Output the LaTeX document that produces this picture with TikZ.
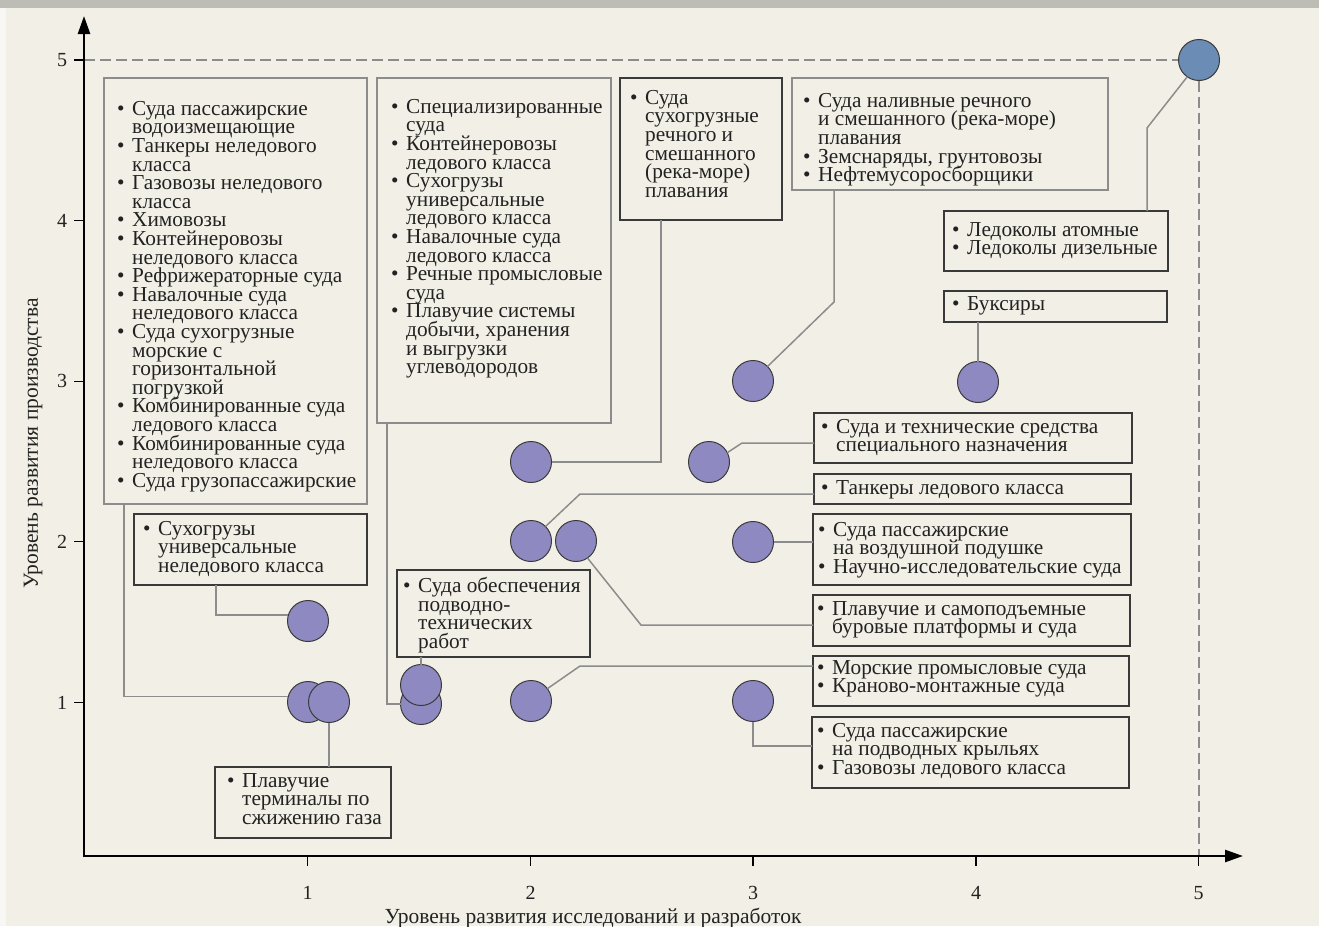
\documentclass[tikz,border=0pt]{standalone}
\usepackage{fontspec}
\setmainfont{Liberation Serif}
\usetikzlibrary{calc,arrows.meta}
\definecolor{bgc}{HTML}{F2F0E6}
\definecolor{bandc}{HTML}{BEBDB5}
\definecolor{stripc}{HTML}{F8F7F3}
\definecolor{txtc}{HTML}{222222}
\definecolor{gline}{HTML}{8C8C8C}
\definecolor{dline}{HTML}{3A3A3A}
\definecolor{purp}{HTML}{8F89C1}
\definecolor{bluec}{HTML}{6B8CB5}
\newcommand\mybul{\makebox[15pt][l]{\textbullet}}
\newcommand\mycont{\hspace*{15pt}}
\newcommand\mystrut{\rule{0pt}{14pt}}
\lineskiplimit=-20pt
\begin{document}
\begin{tikzpicture}[x=1pt,y=-1pt,
  boxg/.style={draw=gline, line width=1.5pt, inner sep=0, outer sep=0, anchor=north west},
  boxd/.style={draw=dline, line width=1.5pt, inner sep=0, outer sep=0, anchor=north west},
  txt/.style={inner sep=0, anchor=north west, align=left, text=txtc,
     font=\fontsize{21.3}{18.6}\selectfont},
  dot/.style={circle, draw=dline, line width=1pt, fill=purp, minimum size=41pt, inner sep=0, outer sep=0},
  bdot/.style={dot, fill=bluec},
  conn/.style={draw=gline, line width=1.5pt},
  axisl/.style={draw=black, line width=2.5pt, -{Triangle[length=18pt,width=12pt]}},
  tickl/.style={draw=black, line width=1.2pt},
  dashl/.style={draw=gline, line width=2.2pt, dash pattern=on 11pt off 5pt},
  ticklab/.style={inner sep=0, text=txtc, font=\fontsize{20}{20}\selectfont},
  axlab/.style={inner sep=0, text=txtc, font=\fontsize{21.5}{21.5}\selectfont}
]
\useasboundingbox (0,0) rectangle (1319,926);
\fill[bgc] (0,0) rectangle (1319,926);
\fill[stripc] (0,8) rectangle (6,926);
\fill[bandc] (0,0) rectangle (1319,8);

% axes
\coordinate (O) at (84,856);
\coordinate (Ytip) at (84,16);
\coordinate (Xtip) at (1243,856);

% boxes
\node[boxg, minimum width=263pt, minimum height=426pt] (A) at (104,78) {};
\node[boxg, minimum width=234pt, minimum height=345pt] (Bx) at (377,78) {};
\node[boxd, minimum width=162pt, minimum height=142pt] (Cx) at (620,78) {};
\node[boxg, minimum width=316pt, minimum height=112pt] (D) at (792,78) {};
\node[boxd, minimum width=224pt, minimum height=60pt] (E) at (944,211) {};
\node[boxd, minimum width=223pt, minimum height=31pt] (F) at (944,291) {};
\node[boxd, minimum width=318pt, minimum height=50pt] (G) at (814,413) {};
\node[boxd, minimum width=317pt, minimum height=30pt] (H) at (814,474) {};
\node[boxd, minimum width=318pt, minimum height=71pt] (I) at (813,514) {};
\node[boxd, minimum width=317pt, minimum height=51pt] (J) at (813,595) {};
\node[boxd, minimum width=316pt, minimum height=50pt] (K) at (813,656) {};
\node[boxd, minimum width=317pt, minimum height=71pt] (L) at (812,717) {};
\node[boxd, minimum width=233pt, minimum height=71pt] (M) at (134,514) {};
\node[boxd, minimum width=193pt, minimum height=87pt] (N) at (397,570) {};
\node[boxd, minimum width=176pt, minimum height=71pt] (Ob) at (215,767) {};

% box texts
\node[txt] (At) at (117,101) {\mystrut\mybul Суда пассажирские\\
\mycont водоизмещающие\\
\mybul Танкеры неледового\\
\mycont класса\\
\mybul Газовозы неледового\\
\mycont класса\\
\mybul Химовозы\\
\mybul Контейнеровозы\\
\mycont неледового класса\\
\mybul Рефрижераторные суда\\
\mybul Навалочные суда\\
\mycont неледового класса\\
\mybul Суда сухогрузные\\
\mycont морские с\\
\mycont горизонтальной\\
\mycont погрузкой\\
\mybul Комбинированные суда\\
\mycont ледового класса\\
\mybul Комбинированные суда\\
\mycont неледового класса\\
\mybul Суда грузопассажирские};
\node[txt] (Bt) at (391,99) {\mystrut\mybul Специализированные\\
\mycont суда\\
\mybul Контейнеровозы\\
\mycont ледового класса\\
\mybul Сухогрузы\\
\mycont универсальные\\
\mycont ледового класса\\
\mybul Навалочные суда\\
\mycont ледового класса\\
\mybul Речные промысловые\\
\mycont суда\\
\mybul Плавучие системы\\
\mycont добычи, хранения\\
\mycont и выгрузки\\
\mycont углеводородов};
\node[txt] (Ct) at (630,90) {\mystrut\mybul Суда\\
\mycont сухогрузные\\
\mycont речного и\\
\mycont смешанного\\
\mycont (река-море)\\
\mycont плавания};
\node[txt] (Dt) at (803,93) {\mystrut\mybul Суда наливные речного\\
\mycont и смешанного (река-море)\\
\mycont плавания\\
\mybul Земснаряды, грунтовозы\\
\mybul Нефтемусоросборщики};
\node[txt] (Et) at (952,222) {\mystrut\mybul Ледоколы атомные\\
\mybul Ледоколы дизельные};
\node[txt] (Ft) at (952,296) {\mystrut\mybul Буксиры};
\node[txt] (Gt) at (821,419) {\mystrut\mybul Суда и технические средства\\
\mycont специального назначения};
\node[txt] (Ht) at (821,480) {\mystrut\mybul Танкеры ледового класса};
\node[txt] (It) at (818,522) {\mystrut\mybul Суда пассажирские\\
\mycont на воздушной подушке\\
\mybul Научно-исследовательские суда};
\node[txt] (Jt) at (817,601) {\mystrut\mybul Плавучие и самоподъемные\\
\mycont буровые платформы и суда};
\node[txt] (Kt) at (817,660) {\mystrut\mybul Морские промысловые суда\\
\mybul Краново-монтажные суда};
\node[txt] (Lt) at (817,723) {\mystrut\mybul Суда пассажирские\\
\mycont на подводных крыльях\\
\mybul Газовозы ледового класса};
\node[txt] (Mt) at (143,521) {\mystrut\mybul Сухогрузы\\
\mycont универсальные\\
\mycont неледового класса};
\node[txt] (Nt) at (403,577) {\mystrut\mybul Суда обеспечения\\
\mycont подводно-\\
\mycont технических\\
\mycont работ};
\node[txt] (Ot) at (227,773) {\mystrut\mybul Плавучие\\
\mycont терминалы по\\
\mycont сжижению газа};

% circle positions
\coordinate (q55) at (1199,60);
\coordinate (q11) at (308,702);
\coordinate (q111) at (329,702);
\coordinate (q115) at (308,621);
\coordinate (q151) at (421,704);
\coordinate (q1511) at (421,685);
\coordinate (q225) at (531,462);
\coordinate (q22) at (531,541);
\coordinate (q222) at (576,541);
\coordinate (q21) at (531,701);
\coordinate (q2825) at (709,462);
\coordinate (q33) at (753,381);
\coordinate (q32) at (753,542);
\coordinate (q31) at (753,701);
\coordinate (q43) at (978,382);

% dashed guides
\draw[dashl] (O |- q55) -- ($(q55)+(-20.5,0)$);
\draw[dashl] ($(q55)+(0,20.5)$) -- (q55 |- O);

% circles
\node[bdot] (p55) at (q55) {};
\node[dot] (p11) at (q11) {};
\node[dot] (p111) at (q111) {};
\node[dot] (p115) at (q115) {};
\node[dot] (p151) at (q151) {};
\node[dot] (p1511) at (q1511) {};
\node[dot] (p225) at (q225) {};
\node[dot] (p22) at (q22) {};
\node[dot] (p222) at (q222) {};
\node[dot] (p21) at (q21) {};
\node[dot] (p2825) at (q2825) {};
\node[dot] (p33) at (q33) {};
\node[dot] (p32) at (q32) {};
\node[dot] (p31) at (q31) {};
\node[dot] (p43) at (q43) {};

% connectors
\coordinate (d1) at (834,302);
\coordinate (e1) at (1147,128);
\coordinate (g1) at (742,443);
\coordinate (h1) at (580,494);
\coordinate (j1) at (641,625);
\coordinate (k1) at (580,666);
\coordinate (l1) at (753,746);
\draw[conn] ($(A.south west)+(20,0)$) |- (p11.165);
\draw[conn] ($(Bx.south west)+(10,0)$) |- (p151.west);
\draw[conn] ($(Cx.south west)+(41,0)$) |- (p225.east);
\draw[conn] (d1 |- D.south) -- (d1) -- (p33.45);
\draw[conn] (e1 |- E.north) -- (e1) -- (p55.235);
\draw[conn] (p43.north |- F.south) -- (p43.north);
\draw[conn] (p2825.27) -- (g1) -- (g1 -| G.west);
\draw[conn] (p22.45) -- (h1) -- (h1 -| H.west);
\draw[conn] (p32.east) -- (p32.east -| I.west);
\draw[conn] (p222.-56) -- (j1) -- (j1 -| J.west);
\draw[conn] (p21.37) -- (k1) -- (k1 -| K.west);
\draw[conn] (p31.south) -- (l1) -- (l1 -| L.west);
\draw[conn] ($(M.south west)+(82,0)$) |- (p115.163);
\draw[conn] (p1511.north |- N.south) -- (p1511.north);
\draw[conn] (p111.south) -- (p111.south |- Ob.north);

% axes
\draw[axisl] ($(O)+(0,1.25)$) -- (Ytip);
\draw[axisl] ($(O)+(-1.25,0)$) -- (Xtip);
\foreach \v/\yy in {1/702.4,2/541.8,3/381.2,4/220.6,5/60} {
  \draw[tickl] (84,\yy) -- (74,\yy);
  \node[ticklab] (yl\v) at (62,\yy) {\v};
}
\foreach \v/\xx in {1/307.5,2/530.5,3/753,4/976,5/1198.5} {
  \draw[tickl] (\xx,856) -- (\xx,866);
  \node[ticklab] (xl\v) at (\xx,893) {\v};
}
\node[axlab, anchor=base] (xlab) at (593,923) {Уровень развития исследований и разработок};
\node[axlab, rotate=90] (ylab) at (33,443.5) {Уровень развития производства};
\end{tikzpicture}
\end{document}
